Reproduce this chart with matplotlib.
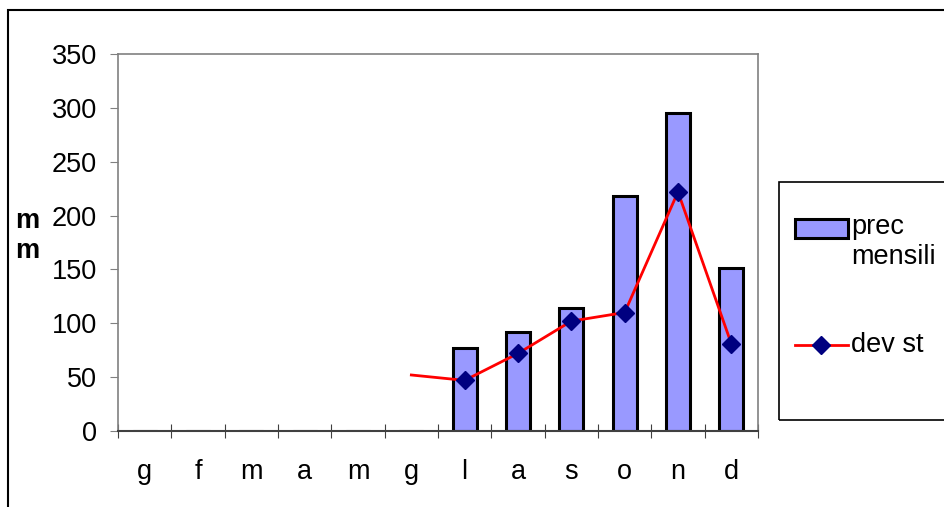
import matplotlib.pyplot as plt
from matplotlib.patches import Rectangle
from matplotlib.lines import Line2D
import numpy as np

plt.rcParams['font.family'] = ['Liberation Sans', 'DejaVu Sans']

months = ["g", "f", "m", "a", "m", "g", "l", "a", "s", "o", "n", "d"]
prec_mensili = [0, 0, 0, 0, 0, 0, 77, 92, 114, 218, 295, 151]
dev_st = [np.nan, np.nan, np.nan, np.nan, np.nan, 52, 47, 72, 102, 110, 222, 81]

BAR_COLOR = "#9999FF"
MARK_COLOR = "#000080"
FS = 19.5

fig = plt.figure(figsize=(9.45, 5.07), dpi=100)
ax = fig.add_axes([0.1249, 0.1499, 0.6772, 0.7436])

x = np.arange(len(months))
ax.bar(x, prec_mensili, width=0.45, color=BAR_COLOR, edgecolor="black",
       linewidth=2.2, zorder=2)
ax.plot(x, dev_st, color="red", linewidth=2, marker="D", markersize=9,
        markerfacecolor=MARK_COLOR, markeredgecolor=MARK_COLOR,
        markevery=list(range(6, 12)), zorder=3)

ax.set_xlim(-0.5, len(months) - 0.5)
ax.set_ylim(0, 350)
ax.set_yticks(range(0, 351, 50))
ax.tick_params(axis="y", labelsize=FS, direction="out", length=6,
               color="#808080", pad=9)

# category labels between boundary ticks
ax.set_xticks(np.arange(-0.5, len(months), 1.0))
ax.set_xticklabels([])
ax.set_xticks(x, minor=True)
ax.set_xticklabels(months, minor=True, fontsize=FS)
ax.tick_params(axis="x", which="major", direction="inout", length=10,
               color="#404040")
ax.tick_params(axis="x", which="minor", length=0, pad=20)

for side in ["top", "right", "left"]:
    ax.spines[side].set_color("#808080")
    ax.spines[side].set_linewidth(1.2)
ax.spines["bottom"].set_color("#404040")
ax.spines["bottom"].set_linewidth(1.5)

fig.text(0.029, 0.535, "m\nm", fontsize=FS, fontweight="bold",
         ha="center", va="center", linespacing=1.2)

# legend, drawn by hand inside its own box
W, H = 945, 507
fig.patches.append(Rectangle((779 / W, 1 - 420 / H), 0.3, 238 / H,
                             transform=fig.transFigure, fill=False,
                             edgecolor="black", linewidth=1.2))
fig.patches.append(Rectangle((795 / W, 1 - 238 / H), 53 / W, 19 / H,
                             transform=fig.transFigure, facecolor=BAR_COLOR,
                             edgecolor="black", linewidth=2.2))
fig.text(851 / W, 1 - 214 / H, "prec\nmensili", fontsize=FS,
         ha="left", va="top", linespacing=1.2, transform=fig.transFigure)
fig.lines.append(Line2D([795 / W, 848 / W], [1 - 345 / H, 1 - 345 / H],
                        transform=fig.transFigure, color="red", linewidth=2))
fig.lines.append(Line2D([821 / W], [1 - 345 / H], transform=fig.transFigure,
                        linestyle="none", marker="D", markersize=9,
                        markerfacecolor=MARK_COLOR, markeredgecolor=MARK_COLOR))
fig.text(851 / W, 1 - 345 / H, "dev st", fontsize=FS, ha="left",
         va="center", transform=fig.transFigure)

# outer chart border
fig.patches.append(Rectangle((8 / W, -0.1), 1.0, 1.1 - 10 / H,
                             transform=fig.transFigure, fill=False,
                             edgecolor="black", linewidth=1.5))

fig.savefig("out.png", dpi=100)
